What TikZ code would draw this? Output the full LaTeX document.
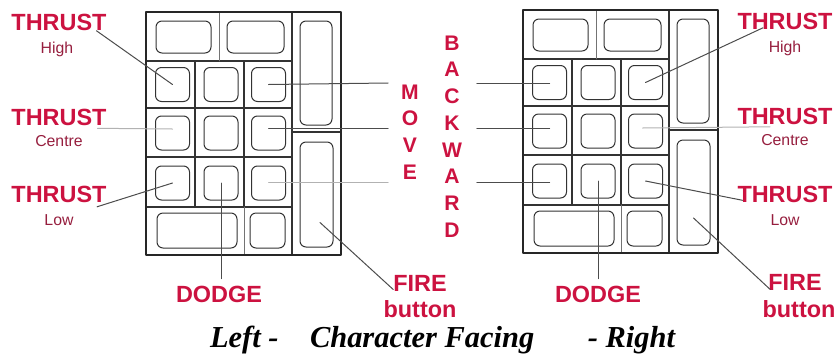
\documentclass[tikz,border=0pt]{standalone}
\usepackage{fontspec}
\setmainfont{Liberation Serif}
\setsansfont{Liberation Sans}
\usetikzlibrary{positioning,calc}
\definecolor{labelred}{RGB}{204,18,64}
\definecolor{labeldark}{RGB}{150,30,62}

\begin{document}
\begin{tikzpicture}[x=0.3mm, y=-0.3mm, line cap=round, line join=round,
                    every node/.style={outer sep=0pt, inner sep=0pt}]

  \tikzset{
    padframe/.style={line width=0.75mm, draw=black!85},
    cellline/.style={line width=0.45mm, draw=black!80},
    thincell/.style={line width=0.25mm, draw=black!55},
    keycap/.style={rectangle, rounded corners=1.8mm, draw=black!80, line width=0.3mm},
    ksz/.style 2 args={minimum width=#1*0.3mm, minimum height=#2*0.3mm},
    leader/.style={line width=0.3mm, draw=black!70},
    faintleader/.style={line width=0.3mm, draw=black!30},
    bigtext/.style={font=\sffamily\bfseries\fontsize{20}{22}\selectfont, text=labelred},
    smalltext/.style={font=\sffamily\fontsize{13.5}{15}\selectfont, text=labeldark},
    lettertext/.style={font=\sffamily\bfseries\fontsize{18}{22.8}\selectfont, text=labelred, align=center},
    titletext/.style={font=\rmfamily\bfseries\itshape\fontsize{26}{28}\selectfont, text=black}
  }

  \path[use as bounding box] (0,0) rectangle (837,353);

  % Keypads
  \foreach \s/\ox/\oy in {L/0/0, R/377/-2} {
    \begin{scope}[shift={(\ox,\oy)}]
      \node[keycap, ksz={55}{32}] (\s-top1) at (183.5,37) {};
      \node[keycap, ksz={57}{32}] (\s-top2) at (255.5,37) {};
      \node[keycap, ksz={32}{104}] (\s-tall1) at (316,73) {};
      \node[keycap, ksz={33}{105}] (\s-tall2) at (316.5,194.5) {};
      \foreach \row/\ry in {1/84.5,2/133,3/183}
        \foreach \col/\cx in {1/172.5,2/221,3/268.5}
          \node[keycap, ksz={34}{34}] (\s-k\row\col) at (\cx,\ry) {};
      \node[keycap, ksz={80}{35}] (\s-wide) at (197,230.5) {};
      \node[keycap, ksz={35}{35}] (\s-k43) at (267.5,230.5) {};

      \draw[cellline] (146,61) -- (292,61) (146,108) -- (292,108)
                      (146,157) -- (292,157) (146,207) -- (292,207);
      \draw[cellline] (292,12) -- (292,255) (292,132) -- (341,132);
      \draw[cellline] (195,61) -- (195,207) (244,61) -- (244,207);
      \draw[thincell] (219,12) -- (219,61) (244,207) -- (244,255);
      \draw[padframe] (146,12) rectangle (341,255);
    \end{scope}
  }

  % Labels, left
  \node[bigtext] (thrHL) at (59,22.5) {THRUST};
  \node[smalltext, anchor=base] (hiL) at (57,53) {High};
  \node[bigtext] (thrCL) at (59,117) {THRUST};
  \node[smalltext, anchor=base] (ceL) at (59,146) {Centre};
  \node[bigtext] (thrLL) at (59,194) {THRUST};
  \node[smalltext, anchor=base] (loL) at (59,225) {Low};
  \node[bigtext] (dodgeL) at (219,294) {DODGE};
  \node[bigtext] (fireL) at (420,283.5) {FIRE};
  \node[bigtext, anchor=base] (btnL) at (420,317) {button};

  % Labels, middle
  \node[lettertext] (move) at (410,132) {M\\O\\V\\E};
  \node[lettertext] (back) at (452,136.5) {B\\A\\C\\K\\W\\A\\R\\D};

  % Labels, right
  \node[bigtext] (thrHR) at (785,21.5) {THRUST};
  \node[smalltext, anchor=base] (hiR) at (785,52) {High};
  \node[bigtext] (thrCR) at (785,116.5) {THRUST};
  \node[smalltext, anchor=base] (ceR) at (785,145) {Centre};
  \node[bigtext] (thrLR) at (785,194) {THRUST};
  \node[smalltext, anchor=base] (loR) at (785,225) {Low};
  \node[bigtext] (dodgeR) at (598,294) {DODGE};
  \node[bigtext] (fireR) at (795,282.5) {FIRE};
  \node[bigtext, anchor=base] (btnR) at (799,317) {button};

  % Title
  \node[titletext, anchor=base west] (tLeft) at (210,347) {Left -};
  \node[titletext, anchor=base west] (tMid) at (310,347) {Character Facing};
  \node[titletext, anchor=base east] (tRight) at (675,347) {- Right};

  % Leaders, left pad
  \draw[leader] ([xshift=-3mm]thrHL.south east) -- (L-k11.center);
  \draw[faintleader] ($(thrCL.south east)+(-9,3)$) -- ($(L-k21.center)+(0,-4)$);
  \draw[leader] ($(thrLL.south east)+(-9.5,4.5)$) -- (L-k31.center);
  \draw[leader] (L-k13.center) -- ($(L-k13.center -| move.west)+(-13,-1.5)$);
  \draw[leader] ($(L-k23.center)+(0,-4.5)$) -- ($(L-k23.center -| move.west)+(-13,-4.5)$);
  \draw[faintleader] ($(L-k33.center)+(0,-1)$) -- ($(L-k33.center -| move.west)+(-13,-1)$);
  \draw[leader] (L-k32.center) -- ($(L-k32.center |- dodgeL.north)+(0,-7)$);
  \draw[leader] ($(L-tall2.center)+(3.5,28)$) -- ($(fireL.south west)+(0,-2)$);

  % Leaders, right pad
  \draw[leader] ($(R-k11.center -| back.east)+(15,0.5)$) -- ($(R-k11.center)+(0,0.5)$);
  \draw[leader] ($(R-k21.center -| back.east)+(15,-3)$) -- ($(R-k21.center)+(0,-3)$);
  \draw[leader] ($(R-k31.center -| back.east)+(15,1)$) -- ($(R-k31.center)+(0,1)$);
  \draw[leader] (R-k13.center) -- ($(thrHR.south)+(-22,-2)$);
  \draw[faintleader] ($(R-k23.center)+(-3,-3)$) -- ($(thrCR.south)+(-15,2)$);
  \draw[leader] (R-k33.center) -- ($(thrLR.south west)+(5,-2)$);
  \draw[leader] (R-k32.center) -- ($(R-k32.center |- dodgeR.north)+(0,-7)$);
  \draw[leader] ($(R-tall2.center)+(0,25.5)$) -- ($(fireR.south west)+(2,-1)$);
\end{tikzpicture}
\end{document}
